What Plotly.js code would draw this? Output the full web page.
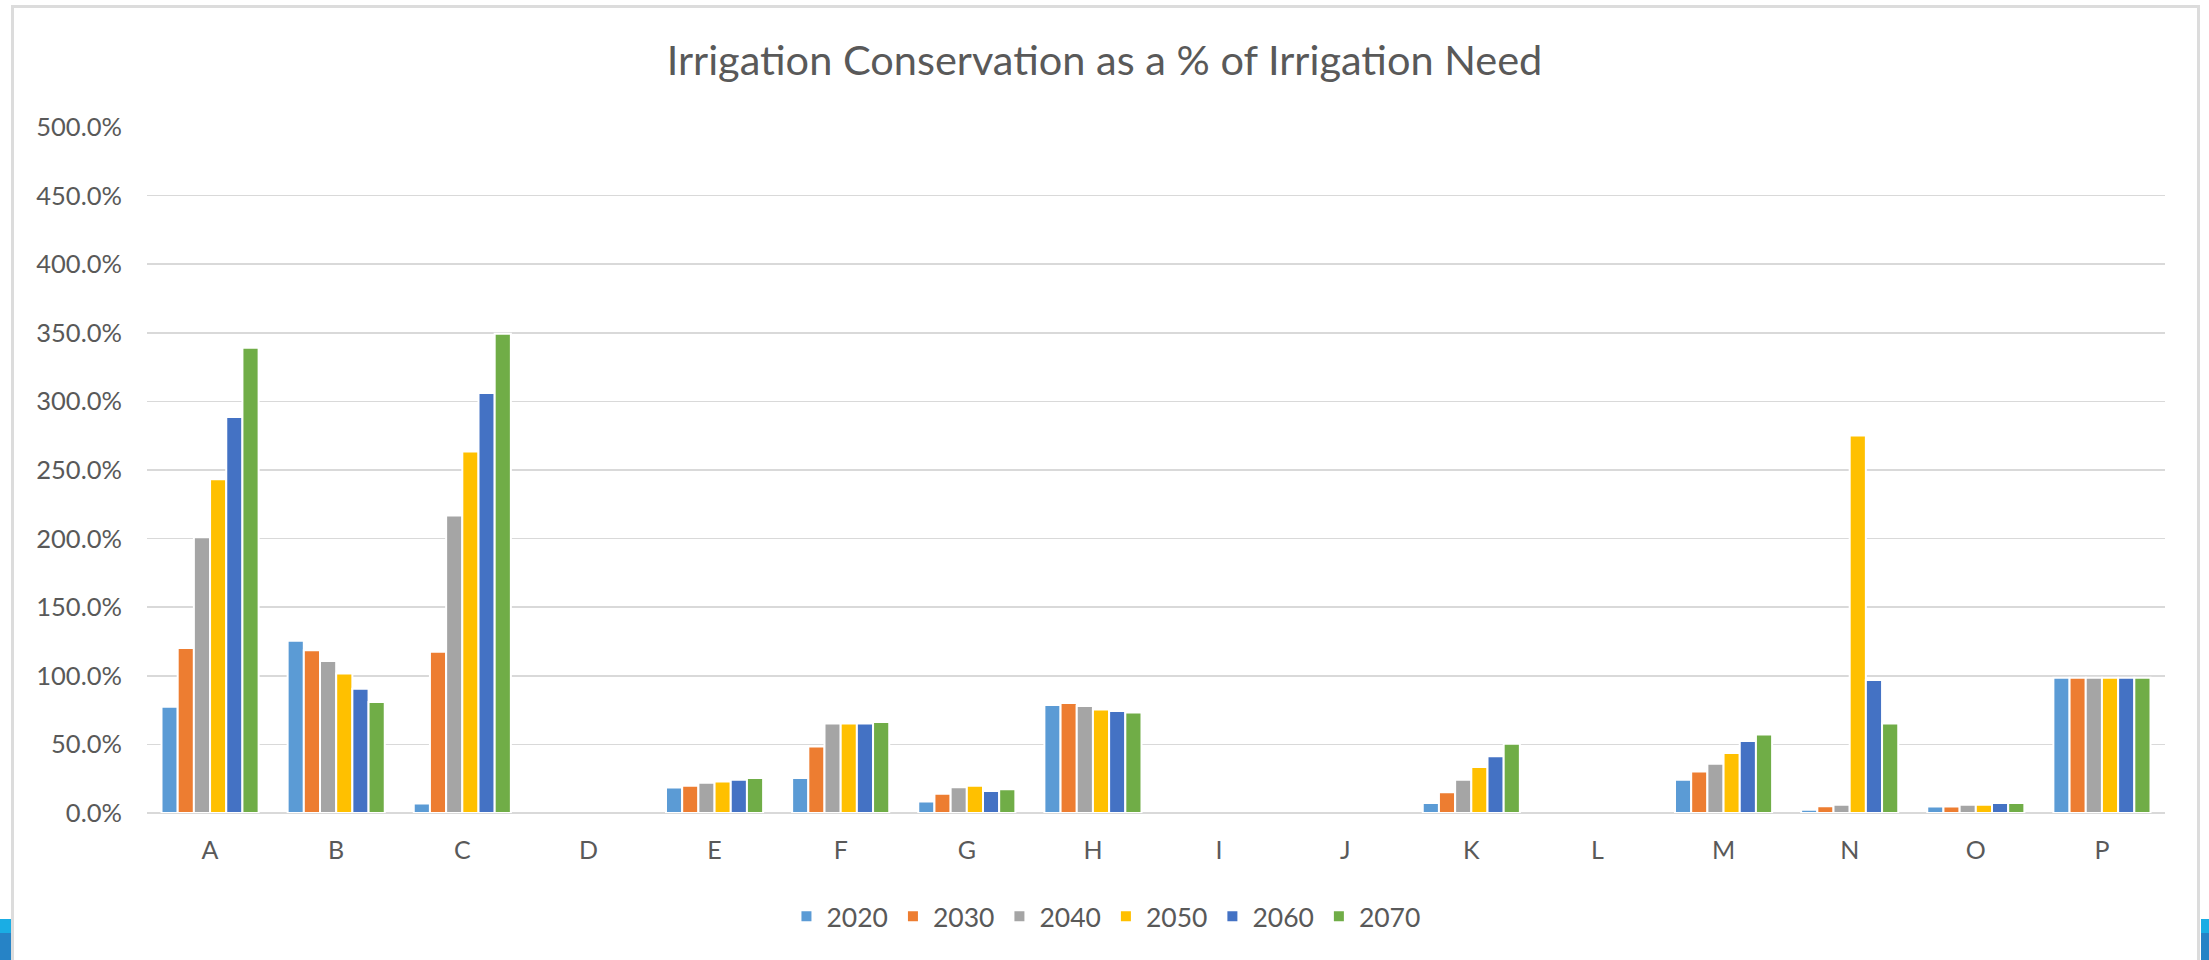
<!DOCTYPE html>
<html>
<head>
<meta charset="utf-8">
<script src="https://cdn.plot.ly/plotly-3.0.1.min.js"></script>
<style>
  html, body { margin: 0; padding: 0; background: #ffffff; overflow: hidden; }
  #chart { position: absolute; left: 0; top: 0; width: 2209px; height: 960px; }
  #frame {
    position: absolute; left: 11px; top: 5px; width: 2183px; height: 1000px;
    border: 3px solid #dcdcdc; pointer-events: none; z-index: 2;
  }
  .strip { position: absolute; top: 919px; height: 41px; z-index: 3;
           background: linear-gradient(#1aade4 0px, #1aade4 14px, #2683c6 14px, #2683c6 41px); }
  #stripL { left: 0; width: 11px; }
  #stripR { left: 2201px; width: 8px; }
</style>
</head>
<body>
<div id="chart"></div>
<div id="frame"></div>
<div class="strip" id="stripL"></div>
<div class="strip" id="stripR"></div>
<script>
// Regions on the category axis
const regions = ['A', 'B', 'C', 'D', 'E', 'F', 'G', 'H', 'I', 'J', 'K', 'L', 'M', 'N', 'O', 'P'];

// Conservation as a percentage of irrigation need, one array per planning decade
const years = ['2020', '2030', '2040', '2050', '2060', '2070'];
const pct2020 = [77.5, 125.6, 7.0, 0, 18.5, 25.5, 8.3, 78.8, 0, 0, 7.3, 0, 24.2, 2.3, 4.7, 98.6];
const pct2030 = [120.2, 118.6, 117.6, 0, 19.8, 48.4, 14.0, 80.1, 0, 0, 15.1, 0, 30.2, 4.9, 4.7, 98.6];
const pct2040 = [201.0, 110.8, 216.9, 0, 22.1, 65.3, 18.7, 78.0, 0, 0, 24.2, 0, 35.9, 6.0, 6.0, 98.6];
const pct2050 = [243.2, 101.7, 263.5, 0, 22.9, 65.3, 19.8, 75.4, 0, 0, 33.5, 0, 43.7, 275.2, 6.0, 98.6];
const pct2060 = [288.7, 90.5, 306.1, 0, 24.2, 65.3, 16.1, 74.4, 0, 0, 41.4, 0, 52.5, 97.0, 7.3, 98.6];
const pct2070 = [339.1, 80.9, 349.3, 0, 25.5, 66.3, 17.4, 73.3, 0, 0, 50.5, 0, 57.2, 65.3, 7.3, 98.6];

const seriesValues = [pct2020, pct2030, pct2040, pct2050, pct2060, pct2070];
const seriesColors = ['#5b9bd5', '#ed7d31', '#a5a5a5', '#ffc000', '#4472c4', '#70ad47'];

const FONT = 'Lato, "Open Sans", sans-serif';
const TEXT = '#595959';

// White separators between neighbouring bars; zero-height bars get none so the baseline stays unbroken
const traces = years.map((yr, i) => ({
  type: 'bar',
  name: yr,
  x: regions,
  y: seriesValues[i],
  marker: {
    color: seriesColors[i],
    line: { color: '#ffffff', width: seriesValues[i].map(v => (v > 0 ? 2 : 0)) }
  },
  hovertemplate: '%{x}: %{y:.1f}%<extra>' + yr + '</extra>'
}));

const layout = {
  width: 2209,
  height: 960,
  paper_bgcolor: 'rgba(0,0,0,0)',
  plot_bgcolor: 'rgba(0,0,0,0)',
  margin: { l: 147, r: 44, t: 127, b: 147, pad: 0 },
  barmode: 'group',
  bargap: 0.23,
  bargroupgap: 0,
  font: { family: FONT, color: TEXT, size: 25 },
  title: {
    text: 'Irrigation Conservation as a % of Irrigation Need',
    font: { family: FONT, size: 41.5, color: TEXT },
    x: 0.5, xref: 'container', xanchor: 'center',
    y: 1 - 60 / 960, yref: 'container', yanchor: 'middle'
  },
  xaxis: {
    type: 'category',
    showgrid: false,
    showline: false,
    zeroline: false,
    ticks: 'outside',
    ticklen: 15,
    tickcolor: 'rgba(0,0,0,0)',
    tickfont: { family: FONT, size: 25, color: TEXT },
    fixedrange: true
  },
  yaxis: {
    range: [0, 500],
    dtick: 50,
    tick0: 0,
    tickformat: '.1f',
    ticksuffix: '%',
    showgrid: true,
    gridcolor: '#d9d9d9',
    gridwidth: 1.6,
    zeroline: true,
    zerolinecolor: '#d9d9d9',
    zerolinewidth: 1.6,
    showline: false,
    ticks: 'outside',
    ticklen: 19,
    tickcolor: 'rgba(0,0,0,0)',
    tickfont: { family: FONT, size: 25.5, color: TEXT },
    fixedrange: true
  },
  legend: {
    orientation: 'h',
    x: 0.4752, xanchor: 'center',
    y: -0.151, yanchor: 'middle',
    font: { family: FONT, size: 26.5, color: TEXT },
    itemwidth: 30,
    traceorder: 'normal',
    bgcolor: 'rgba(0,0,0,0)'
  },
  showlegend: true
};

Plotly.newPlot('chart', traces, layout, { displayModeBar: false, staticPlot: true });
</script>
</body>
</html>
